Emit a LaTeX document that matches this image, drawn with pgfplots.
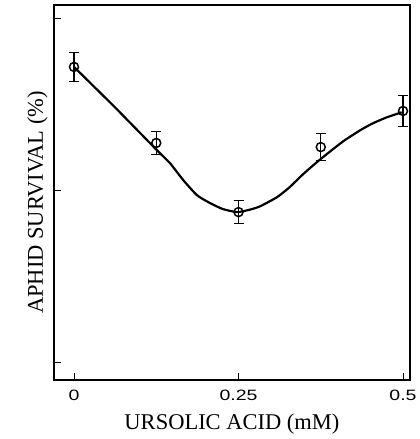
\documentclass[border=0pt]{standalone}
\usepackage{pgfplots}
\pgfplotsset{compat=1.18}
\usepackage{fontspec}
\setmainfont{Liberation Serif}
\newfontfamily\ticksans[FakeStretch=1.3]{Liberation Sans}
\begin{document}
\begin{tikzpicture}
\begin{axis}[scale only axis,width=356pt,height=375pt,
  xmin=-0.0304,xmax=0.5106,ymin=-5.2,ymax=103.8,
  xtick={0,0.25,0.5},xticklabels={0,0.25,0.5},
  ytick={0,50,100},yticklabels={},
  tick align=inside,tick pos=left,major tick length=7pt,
  tick style={black,line width=1pt},
  axis line style={black,line width=1.8pt},
  x tick label style={font=\ticksans\fontsize{15}{16}\selectfont,yshift=-6pt},
  xlabel={URSOLIC ACID (mM)},ylabel={APHID SURVIVAL (\%)},
  label style={font=\fontsize{22.5}{23}\selectfont},
  xlabel style={yshift=-7pt},ylabel style={yshift=-4pt,xshift=-10pt}]
% fitted curve
\addplot[black,line width=2.2pt,smooth,tension=0.35] coordinates {(0,85.8) (0.062,74.1) (0.126,61.6) (0.146,57.8) (0.166,52.9) (0.187,48.5) (0.207,46.2) (0.226,44.5) (0.248,43.6) (0.267,44.3) (0.283,45.3) (0.309,48.0) (0.328,50.9) (0.348,54.6) (0.369,58.1) (0.389,61.2) (0.410,64.3) (0.435,67.4) (0.454,69.4) (0.476,71.2) (0.498,72.6)};
% means with error bars
\addplot[only marks,mark=o,mark size=4.5pt,mark options={fill=white,line width=1.5pt},
  error bars/.cd,y dir=both,y explicit,error bar style={line width=1.1pt},
  error mark options={rotate=90,mark size=5pt,line width=1.1pt}]
  coordinates {(0,85.8) +- (0,4.3) (0.125,63.7) +- (0,3.3) (0.25,43.6) +- (0,3.3) (0.375,62.5) +- (0,3.9) (0.5,73.0) +- (0,4.5)};
\end{axis}
\useasboundingbox (current axis.south west) ++(-54pt,-59pt) rectangle ([shift={(10pt,5pt)}]current axis.north east);
\end{tikzpicture}
\end{document}
